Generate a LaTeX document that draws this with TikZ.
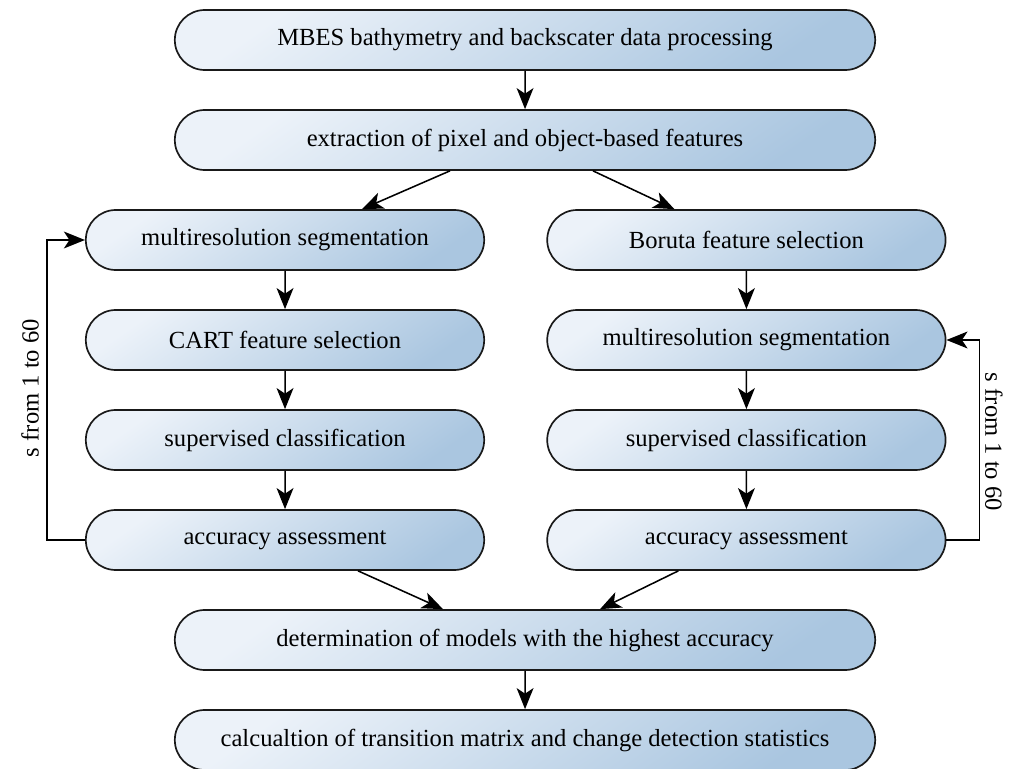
\documentclass[tikz,border=0pt]{standalone}
\usepackage{fontspec}
\setmainfont{Liberation Serif}
\usepackage{tikz}
\usetikzlibrary{shapes.misc,arrows.meta}
\definecolor{boxtop}{RGB}{236,242,249}
\definecolor{boxbot}{RGB}{170,198,224}

\begin{document}
\begin{tikzpicture}[
    stage/.style={rounded rectangle,draw=black!90,line width=1.2pt,minimum height=1.5cm,
      top color=boxtop,bottom color=boxbot,shading angle=35,
      font=\fontsize{17.5}{20}\selectfont,inner sep=2pt},
    wide/.style={stage,minimum width=17.65cm},
    narrow/.style={stage,minimum width=10.1cm},
    flow/.style={-{Stealth[length=15pt,width=12pt,inset=4pt]},line width=1.1pt}]
  \useasboundingbox (0,0) rectangle (25.3,-19.225);
  % common steps
  \node[wide] (proc) at (13.125,-1) {MBES bathymetry and backscater data processing};
  \node[wide] (feat) at (13.125,-3.5) {extraction of pixel and object-based features};
  % left branch
  \node[narrow] (segL) at (7.125,-6) {multiresolution segmentation};
  \node[narrow] (cart) at (7.125,-8.5) {CART feature selection};
  \node[narrow] (clsL) at (7.125,-11) {supervised classification};
  \node[narrow] (accL) at (7.125,-13.5) {accuracy assessment};
  % right branch
  \node[narrow] (boruta) at (18.66,-6) {Boruta feature selection};
  \node[narrow] (segR) at (18.66,-8.5) {multiresolution segmentation};
  \node[narrow] (clsR) at (18.66,-11) {supervised classification};
  \node[narrow] (accR) at (18.66,-13.5) {accuracy assessment};
  % final steps
  \node[wide] (best) at (13.125,-16) {determination of models with the highest accuracy};
  \node[wide] (stats) at (13.125,-18.5) {calcualtion of transition matrix and change detection statistics};

  \draw[flow] (proc) -- (feat);
  \draw[flow] ([xshift=-1.875cm]feat.south) -- ([xshift=1.925cm]segL.north);
  \draw[flow] ([xshift=1.7cm]feat.south) -- ([xshift=-1.8cm]boruta.north);
  \draw[flow] (segL) -- (cart);
  \draw[flow] (cart) -- (clsL);
  \draw[flow] (clsL) -- (accL);
  \draw[flow] (boruta) -- (segR);
  \draw[flow] (segR) -- (clsR);
  \draw[flow] (clsR) -- (accR);
  \draw[flow] ([xshift=1.825cm]accL.south) -- ([xshift=-2.05cm]best.north);
  \draw[flow] ([xshift=-1.7cm]accR.south) -- ([xshift=1.875cm]best.north);
  \draw[flow] (best) -- (stats);
  % iteration loops
  \draw[flow] (accL.west) -- ++(-0.95,0) coordinate (cL) -- (cL |- segL.west) -- (segL.west);
  \draw[flow] (accR.east) -- ++(0.825,0) coordinate (cR) -- (cR |- segR.east) -- (segR.east);
  \node[rotate=90,font=\fontsize{17.5}{20}\selectfont] (labL) at (0.75,-9.7) {s from 1 to 60};
  \node[rotate=-90,font=\fontsize{17.5}{20}\selectfont] (labR) at (24.85,-11.05) {s from 1 to 60};
\end{tikzpicture}
\end{document}
